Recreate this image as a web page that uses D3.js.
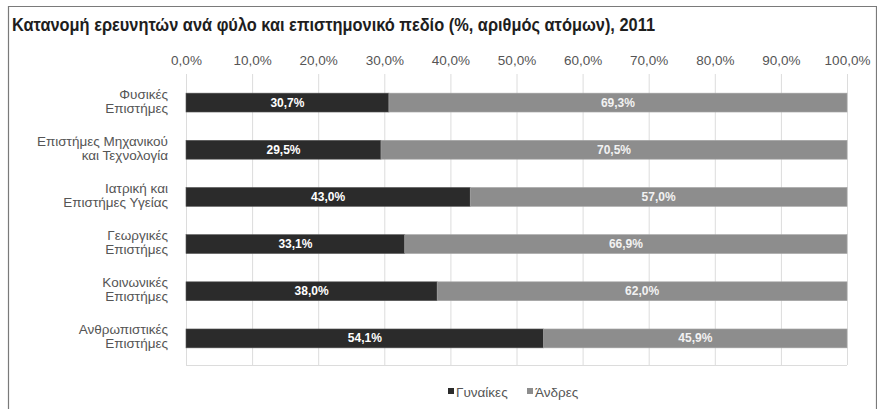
<!DOCTYPE html>
<html><head><meta charset="utf-8">
<script src="https://cdn.jsdelivr.net/npm/d3@7"></script>
<style>body{margin:0;background:#fff;}svg{display:block;font-family:"Liberation Sans",Arial,sans-serif;}</style>
</head><body>
<script>
const title = "Κατανομή ερευνητών ανά φύλο και επιστημονικό πεδίο (%, αριθμός ατόμων), 2011";
const categories = [
  ["Φυσικές","Επιστήμες"],
  ["Επιστήμες Μηχανικού","και Τεχνολογία"],
  ["Ιατρική και","Επιστήμες Υγείας"],
  ["Γεωργικές","Επιστήμες"],
  ["Κοινωνικές","Επιστήμες"],
  ["Ανθρωπιστικές","Επιστήμες"]
];
const women = [30.7, 29.5, 43.0, 33.1, 38.0, 54.1];
const men = [69.3, 70.5, 57.0, 66.9, 62.0, 45.9];
const seriesNames = ["Γυναίκες", "Άνδρες"];
const tickValues = [0,10,20,30,40,50,60,70,80,90,100];

const W = 877, H = 409;
const svg = d3.select("body").append("svg").attr("width", W).attr("height", H);
svg.append("rect").attr("width", W).attr("height", H).attr("fill", "#fff");
// frame
svg.append("path").attr("d", "M8.5,409 V6.5 H876.5 V409").attr("fill","none").attr("stroke","#7a7a7a").attr("stroke-width",1.2);

const loc = d3.formatLocale({decimal: ",", thousands: ".", grouping: [3], currency: ["", "€"]});
const fmt = loc.format(".1f");

const x = d3.scaleLinear().domain([0,100]).range([186, 847]);
const y = d3.scaleBand().domain(d3.range(categories.length)).range([79, 362]).paddingInner(0.6).paddingOuter(0.3);
const gridTop = 74, gridBottom = 365;

// title
svg.append("text").attr("x", 12).attr("y", 31).attr("font-size", 18).attr("font-weight", "bold")
  .attr("fill", "#1e1e1e").attr("textLength", 643).attr("lengthAdjust", "spacingAndGlyphs").text(title);

// gridlines
svg.append("g").selectAll("line").data(tickValues).join("line")
  .attr("x1", d => x(d) + 0.5).attr("x2", d => x(d) + 0.5)
  .attr("y1", gridTop).attr("y2", gridBottom)
  .attr("stroke", "#dcdcdc").attr("stroke-width", 1);
svg.append("line").attr("x1", x(0)).attr("x2", x(100)).attr("y1", gridBottom+0.5).attr("y2", gridBottom+0.5).attr("stroke","#dcdcdc");

// top axis labels
const ax = d3.axisTop(x).tickValues(tickValues).tickFormat(d => fmt(d) + "%").tickSize(0).tickPadding(0);
const axG = svg.append("g").attr("transform", "translate(0,65)").call(ax);
axG.select(".domain").remove();
axG.selectAll("text").attr("font-size", 13.5).attr("fill", "#555").attr("font-family", "'Liberation Sans',Arial,sans-serif");

// bars
const rows = svg.append("g").selectAll("g").data(categories).join("g");
rows.append("rect").attr("x", x(0)).attr("y", (d,i) => y(i)).attr("width", (d,i) => x(women[i]) - x(0)).attr("height", y.bandwidth())
  .attr("fill", "#2b2b2b").attr("stroke", "#555").attr("stroke-width", 0.6);
rows.append("rect").attr("x", (d,i) => x(women[i])).attr("y", (d,i) => y(i)).attr("width", (d,i) => x(women[i] + men[i]) - x(women[i])).attr("height", y.bandwidth())
  .attr("fill", "#8d8d8d").attr("stroke", "#a5a5a5").attr("stroke-width", 0.6);

// value labels
rows.append("text").attr("x", (d,i) => (x(0) + x(women[i]))/2).attr("y", (d,i) => y(i) + y.bandwidth()/2 + 4)
  .attr("text-anchor", "middle").attr("font-size", 12).attr("font-weight", "bold").attr("fill", "#fff")
  .text((d,i) => fmt(women[i]) + "%");
rows.append("text").attr("x", (d,i) => (x(women[i]) + x(100))/2).attr("y", (d,i) => y(i) + y.bandwidth()/2 + 4)
  .attr("text-anchor", "middle").attr("font-size", 12).attr("font-weight", "bold").attr("fill", "#f2f2f2")
  .text((d,i) => fmt(men[i]) + "%");

// category labels
rows.each(function(d, i) {
  const cy = y(i) + y.bandwidth()/2;
  const txt = d3.select(this).append("text").attr("text-anchor", "end").attr("font-size", 13.5).attr("fill", "#555");
  d.forEach((line, k) => {
    txt.append("tspan").attr("x", 168).attr("y", cy - 2 + (k - (d.length-1)/2) * 14 + 5).text(line);
  });
});

// legend
const legend = svg.append("g").attr("transform", "translate(0,393)");
const legX = [448, 527];
const legColors = ["#2b2b2b", "#8d8d8d"];
seriesNames.forEach((n, i) => {
  legend.append("rect").attr("x", legX[i]).attr("y", -5).attr("width", 6).attr("height", 6).attr("fill", legColors[i]);
  legend.append("text").attr("x", legX[i] + 8).attr("y", 4).attr("font-size", 13.5).attr("fill", "#555").text(n);
});
</script>
</body></html>
